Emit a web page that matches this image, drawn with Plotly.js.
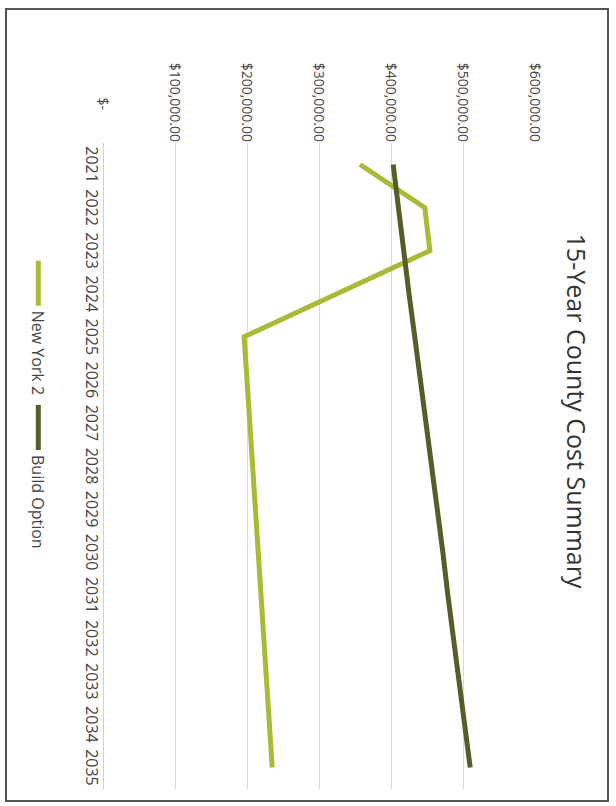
<!DOCTYPE html>
<html>
<head>
<meta charset="utf-8">
<script src="https://cdn.plot.ly/plotly-3.0.1.min.js"></script>
<style>
  html, body { margin: 0; padding: 0; background: #ffffff; overflow: hidden; width: 616px; height: 806px; }
  #frame { position: absolute; left: 5px; top: 8px; width: 600px; height: 790px; border: 2px solid #555; }
  #chart { position: absolute; left: 0; top: 0; width: 806px; height: 616px;
           transform-origin: 0 0; transform: translateX(616px) rotate(90deg); }
</style>
</head>
<body>
<div id="frame"></div>
<div id="chart"></div>
<script>
const years = ['2021','2022','2023','2024','2025','2026','2027','2028','2029','2030','2031','2032','2033','2034','2035'];
const newYork2 = [357000, 447000, 454000, 325000, 196000, 200000, 204000, 208000, 212000, 216000, 220000, 223000, 227000, 231000, 235000];
const buildOption = [403000, 410000, 418000, 425000, 433000, 441000, 448000, 456000, 464000, 472000, 479000, 487000, 494000, 502000, 510000];
const valueTicks = [0, 100000, 200000, 300000, 400000, 500000, 600000];
const valueTickLabels = ['$-\u2007\u2007\u2007\u2007', '$100,000.00', '$200,000.00', '$300,000.00', '$400,000.00', '$500,000.00', '$600,000.00'];

const traces = [
  { x: years, y: newYork2, name: 'New York 2', type: 'scatter', mode: 'lines',
    line: { color: '#abba36', width: 5 } },
  { x: years, y: buildOption, name: 'Build Option', type: 'scatter', mode: 'lines',
    line: { color: '#535f2a', width: 5 } }
];

const layout = {
  width: 806, height: 616,
  margin: { l: 143, r: 17, t: 81, b: 103 },
  paper_bgcolor: 'rgba(0,0,0,0)',
  plot_bgcolor: 'rgba(0,0,0,0)',
  font: { family: 'Open Sans, sans-serif', size: 14, color: '#444' },
  title: { text: '15-Year County Cost Summary', font: { size: 25, color: '#333' },
           x: 0.51, xanchor: 'center', y: 0.935, yanchor: 'middle', yref: 'container' },
  xaxis: { type: 'category', showgrid: false, showline: false, ticks: '',
           tickfont: { size: 16, color: '#444' }, range: [-0.5, 14.5], fixedrange: true },
  yaxis: { range: [0, 600000], tickvals: valueTicks, ticktext: valueTickLabels,
           showgrid: true, gridcolor: '#d9d9d9', gridwidth: 1,
           zeroline: true, zerolinecolor: '#d0d0d0', zerolinewidth: 1,
           showline: false, ticks: '', tickfont: { size: 14, color: '#444' } },
  showlegend: true,
  legend: { orientation: 'h', x: 0.405, xanchor: 'center', y: -0.15, yanchor: 'middle',
            font: { size: 16, color: '#444' }, bgcolor: 'rgba(0,0,0,0)', itemwidth: 45 }
};

Plotly.newPlot('chart', traces, layout, { staticPlot: true, displayModeBar: false });
</script>
</body>
</html>
